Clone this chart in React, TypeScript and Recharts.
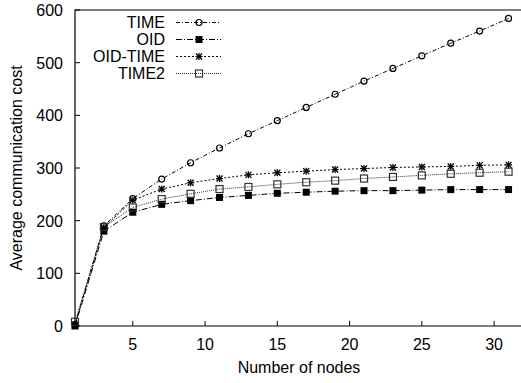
import React from 'react';
import { LineChart, Line, XAxis, YAxis, ReferenceArea, Legend } from 'recharts';

const nodes = [1, 3, 5, 7, 9, 11, 13, 15, 17, 19, 21, 23, 25, 27, 29, 31];
const timeCost = [3, 190, 242, 279, 310, 338, 365, 390, 415, 440, 465, 489, 513, 537, 560, 584];
const oidCost = [0, 180, 216, 231, 238, 244, 248, 252, 254, 256, 257, 257, 258, 259, 259, 259];
const oidTimeCost = [2, 187, 239, 260, 272, 280, 287, 291, 294, 297, 299, 301, 302, 303, 305, 306];
const time2Cost = [8, 188, 225, 241, 251, 260, 264, 269, 273, 276, 280, 283, 286, 289, 291, 293];
const xTicks = [5, 10, 15, 20, 25, 30];
const yTicks = [0, 100, 200, 300, 400, 500, 600];
const xDomain = [1, 32];
const yDomain = [0, 600];

const data = nodes.map((n, i) => ({
  n,
  time: timeCost[i],
  oid: oidCost[i],
  oidTime: oidTimeCost[i],
  time2: time2Cost[i],
}));

const FONT = "'Liberation Sans', Arial, Helvetica, sans-serif";
const FS = 16;
const TL = 5;

type Shape = 'circle' | 'fsquare' | 'star' | 'osquare';
const SERIES: { key: string; name: string; dash: string; color: string; shape: Shape }[] = [
  { key: 'time', name: 'TIME', dash: '4 2 1 2', color: '#000', shape: 'circle' },
  { key: 'oid', name: 'OID', dash: '6 2 1 2', color: '#000', shape: 'fsquare' },
  { key: 'oidTime', name: 'OID-TIME', dash: '2 2', color: '#000', shape: 'star' },
  { key: 'time2', name: 'TIME2', dash: '1 1', color: '#333', shape: 'osquare' },
];

function Marker({ shape, cx, cy, color }: { shape: Shape; cx: number; cy: number; color: string }) {
  if (cx == null || cy == null || isNaN(cx) || isNaN(cy)) return null;
  switch (shape) {
    case 'circle':
      return <circle cx={cx} cy={cy} r={3} fill="none" stroke={color} strokeWidth={1.2} />;
    case 'fsquare':
      return <rect x={cx - 3.5} y={cy - 3.5} width={7} height={7} fill={color} />;
    case 'star':
      return (
        <g stroke={color} strokeWidth={1.3}>
          <line x1={cx - 3.5} y1={cy} x2={cx + 3.5} y2={cy} />
          <line x1={cx} y1={cy - 3.5} x2={cx} y2={cy + 3.5} />
          <line x1={cx - 3} y1={cy - 3} x2={cx + 3} y2={cy + 3} />
          <line x1={cx - 3} y1={cy + 3} x2={cx + 3} y2={cy - 3} />
        </g>
      );
    case 'osquare':
      return <rect x={cx - 3.5} y={cy - 3.5} width={7} height={7} fill="none" stroke={color} strokeWidth={1.2} />;
  }
  return null;
}

const BottomTick = (p: any) => (
  <g>
    <line x1={p.x} y1={p.y} x2={p.x} y2={p.y - TL} stroke="#000" />
    <text x={p.x} y={p.y + 23.5} textAnchor="middle" fontSize={FS} fontFamily={FONT} fill="#000">
      {p.payload.value}
    </text>
  </g>
);
const TopTick = (p: any) => <line x1={p.x} y1={p.y} x2={p.x} y2={p.y + TL} stroke="#000" />;
const LeftTick = (p: any) => (
  <g>
    <line x1={p.x} y1={p.y} x2={p.x + TL} y2={p.y} stroke="#000" />
    <text x={p.x - 12} y={p.y + 6} textAnchor="end" fontSize={FS} fontFamily={FONT} fill="#000">
      {p.payload.value}
    </text>
  </g>
);
const RightTick = (p: any) => <line x1={p.x} y1={p.y} x2={p.x - TL} y2={p.y} stroke="#000" />;

const LegendBox = () => (
  <svg width={240} height={90} style={{ display: 'block' }}>
    {SERIES.map((s, i) => {
      const cy = 22.5 + i * 17;
      return (
        <g key={s.key}>
          <text x={165} y={cy + 5.8} textAnchor="end" fontSize={FS} fontFamily={FONT} fill="#000">
            {s.name}
          </text>
          <line x1={176} y1={cy} x2={221} y2={cy} stroke={s.color} strokeDasharray={s.dash} />
          <Marker shape={s.shape} cx={199} cy={cy} color={s.color} />
        </g>
      );
    })}
  </svg>
);

export default function App() {
  return (
    <div style={{ position: 'absolute', left: 0, top: 0, width: 521, height: 383, overflow: 'hidden', background: '#fff' }}>
      <LineChart width={524} height={383} data={data} margin={{ top: 10, right: 1, bottom: 0, left: 0 }}>
        <XAxis
          dataKey="n"
          type="number"
          domain={xDomain}
          ticks={xTicks}
          height={57}
          axisLine={false}
          tickLine={false}
          tickSize={0}
          tickMargin={0}
          tick={<BottomTick />}
          label={{
            content: (lp: any) => {
              const vb = lp.viewBox;
              return (
                <text x={vb.x + vb.width / 2} y={vb.y + 47} textAnchor="middle" fontSize={FS} fontFamily={FONT} fill="#000">
                  Number of nodes
                </text>
              );
            },
          }}
        />
        <XAxis
          xAxisId="top"
          orientation="top"
          dataKey="n"
          type="number"
          domain={xDomain}
          ticks={xTicks}
          height={0}
          axisLine={false}
          tickLine={false}
          tickSize={0}
          tickMargin={0}
          tick={<TopTick />}
        />
        <YAxis
          type="number"
          domain={yDomain}
          ticks={yTicks}
          width={75}
          axisLine={false}
          tickLine={false}
          tickSize={0}
          tickMargin={0}
          tick={<LeftTick />}
          label={{
            content: (lp: any) => {
              const vb = lp.viewBox;
              const x = vb.x + 22;
              const y = vb.y + vb.height / 2;
              return (
                <text x={x} y={y} transform={`rotate(-90 ${x} ${y})`} textAnchor="middle" fontSize={FS} fontFamily={FONT} fill="#000">
                  Average communication cost
                </text>
              );
            },
          }}
        />
        <YAxis
          yAxisId="right"
          orientation="right"
          type="number"
          domain={yDomain}
          ticks={yTicks}
          width={0}
          axisLine={false}
          tickLine={false}
          tickSize={0}
          tickMargin={0}
          tick={<RightTick />}
        />
        <ReferenceArea x1={xDomain[0]} x2={xDomain[1]} y1={yDomain[0]} y2={yDomain[1]} fill="none" stroke="#000" strokeWidth={1.2} fillOpacity={0} />
        {SERIES.map((s) => (
          <Line
            key={s.key}
            type="linear"
            dataKey={s.key}
            name={s.name}
            stroke={s.color}
            strokeWidth={1}
            strokeDasharray={s.dash}
            isAnimationActive={false}
            activeDot={false}
            dot={(dp: any) => <Marker key={`${s.key}-${dp.index}`} shape={s.shape} cx={dp.cx} cy={dp.cy} color={s.color} />}
          />
        ))}
        <Legend
          layout="vertical"
          align="center"
          verticalAlign="middle"
          wrapperStyle={{ position: 'absolute', left: 0, top: 0, width: 240, height: 90 }}
          content={() => <LegendBox />}
        />
      </LineChart>
    </div>
  );
}
